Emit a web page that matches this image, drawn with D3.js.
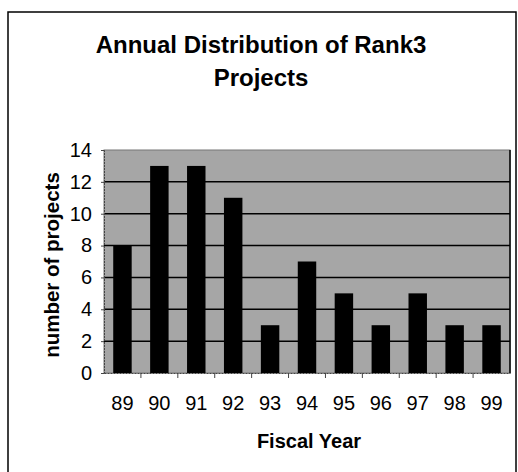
<!DOCTYPE html>
<html>
<head>
<meta charset="utf-8">
<script src="https://cdn.jsdelivr.net/npm/d3@7"></script>
<style>
  body { margin: 0; background: #fff; }
  text { font-family: "Liberation Sans", Arial, sans-serif; fill: #000; }
</style>
</head>
<body>
<svg id="chart" width="518" height="472"></svg>
<script>
// chart data
const years = ["89", "90", "91", "92", "93", "94", "95", "96", "97", "98", "99"];
const projects = [8, 13, 13, 11, 3, 7, 5, 3, 5, 3, 3];
const yTicks = [0, 2, 4, 6, 8, 10, 12, 14];
const titleLines = ["Annual Distribution of Rank3", "Projects"];

const svg = d3.select("#chart");

// outer frame
svg.append("rect")
    .attr("x", 8).attr("y", 12)
    .attr("width", 508).attr("height", 470)
    .attr("fill", "none")
    .attr("stroke", "#000")
    .attr("stroke-width", 1.5);

const plot = { left: 104, right: 510, top: 150, bottom: 373 };

const x = d3.scaleBand()
    .domain(years)
    .range([plot.left, plot.right])
    .paddingInner(0.5)
    .paddingOuter(0.25);

const y = d3.scaleLinear()
    .domain([0, 14])
    .range([plot.bottom, plot.top]);

// plot background (grey halftone in the original)
svg.append("rect")
    .attr("x", plot.left).attr("y", plot.top)
    .attr("width", plot.right - plot.left)
    .attr("height", plot.bottom - plot.top)
    .attr("fill", "#a6a6a6")
    .attr("stroke", "#777")
    .attr("stroke-width", 1);

// gridlines
svg.append("g")
    .selectAll("line")
    .data(yTicks.filter(d => d > 0 && d < 14))
    .join("line")
    .attr("x1", plot.left).attr("x2", plot.right)
    .attr("y1", d => y(d)).attr("y2", d => y(d))
    .attr("stroke", "#000")
    .attr("stroke-width", 1.5);

// bars
svg.append("g")
    .selectAll("rect")
    .data(projects)
    .join("rect")
    .attr("x", (d, i) => x(years[i]))
    .attr("y", d => y(d))
    .attr("width", x.bandwidth())
    .attr("height", d => y(0) - y(d))
    .attr("fill", "#000");

// right edge of plot
svg.append("line")
    .attr("x1", plot.right).attr("x2", plot.right)
    .attr("y1", plot.top).attr("y2", plot.bottom)
    .attr("stroke", "#000").attr("stroke-width", 1.5);

// y axis
const yAxis = svg.append("g")
    .attr("transform", `translate(${plot.left},0)`)
    .call(d3.axisLeft(y).tickValues(yTicks).tickSize(3).tickPadding(9));
yAxis.select(".domain").attr("stroke", "#444").attr("stroke-dasharray", "2,1");
yAxis.selectAll(".tick line").attr("stroke", "#444");
yAxis.selectAll("text")
    .attr("font-size", 20)
    .attr("font-family", "Liberation Sans, Arial, sans-serif")
    .attr("fill", "#000");

// x axis with ticks between categories
const xAxis = svg.append("g")
    .attr("transform", `translate(0,${plot.bottom})`)
    .call(d3.axisBottom(x).tickSize(0).tickPadding(23));
xAxis.select(".domain").attr("stroke", "#444").attr("stroke-dasharray", "2,1");
xAxis.selectAll("text")
    .attr("font-size", 20)
    .attr("font-family", "Liberation Sans, Arial, sans-serif")
    .attr("fill", "#000");
xAxis.append("g")
    .selectAll("line")
    .data(years.slice(1))
    .join("line")
    .attr("x1", d => x(d) - x.step() * x.paddingInner() / 2)
    .attr("x2", d => x(d) - x.step() * x.paddingInner() / 2)
    .attr("y1", 0).attr("y2", 5)
    .attr("stroke", "#444");

// title
svg.append("g")
    .selectAll("text")
    .data(titleLines)
    .join("text")
    .attr("x", 261)
    .attr("y", (d, i) => 53 + i * 33)
    .attr("text-anchor", "middle")
    .attr("font-size", 24)
    .attr("font-weight", "bold")
    .text(d => d);

// axis titles
svg.append("text")
    .attr("x", 309).attr("y", 448)
    .attr("text-anchor", "middle")
    .attr("font-size", 20)
    .attr("font-weight", "bold")
    .text("Fiscal Year");

svg.append("text")
    .attr("transform", "translate(59,265) rotate(-90)")
    .attr("text-anchor", "middle")
    .attr("font-size", 20.5)
    .attr("font-weight", "bold")
    .text("number of projects");
</script>
</body>
</html>
